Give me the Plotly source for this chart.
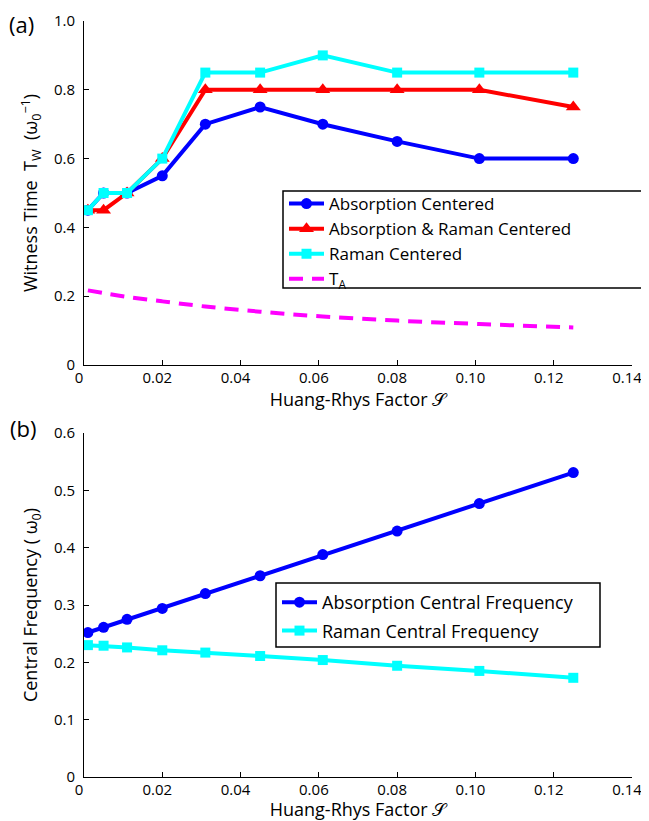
import plotly.graph_objects as go

# ---------------- data ----------------
S_values = [0.001, 0.005, 0.011, 0.02, 0.031, 0.045, 0.061, 0.08, 0.101, 0.125]

tw_absorption = [0.45, 0.50, 0.50, 0.55, 0.70, 0.75, 0.70, 0.65, 0.60, 0.60]
tw_abs_raman = [0.45, 0.45, 0.50, 0.60, 0.80, 0.80, 0.80, 0.80, 0.80, 0.75]
tw_raman = [0.45, 0.50, 0.50, 0.60, 0.85, 0.85, 0.90, 0.85, 0.85, 0.85]
t_a = [0.217, 0.209, 0.198, 0.185, 0.170, 0.155, 0.141, 0.129, 0.119, 0.109]

cf_absorption = [0.252, 0.261, 0.275, 0.294, 0.320, 0.351, 0.388, 0.429, 0.477, 0.531]
cf_raman = [0.230, 0.229, 0.226, 0.221, 0.217, 0.211, 0.204, 0.194, 0.185, 0.173]

x_tick_vals = [0, 0.02, 0.04, 0.06, 0.08, 0.10, 0.12, 0.14]
x_tick_text = ["0", "0.02", "0.04", "0.06", "0.08", "0.10", "0.12", "0.14"]
ya_tick_vals = [0, 0.2, 0.4, 0.6, 0.8, 1.0]
ya_tick_text = ["0", "0.2", "0.4", "0.6", "0.8", "1.0"]
yb_tick_vals = [0, 0.1, 0.2, 0.3, 0.4, 0.5, 0.6]
yb_tick_text = ["0", "0.1", "0.2", "0.3", "0.4", "0.5", "0.6"]

BLUE = "#0000FF"
RED = "#FF0000"
CYAN = "#00FFFF"
MAGENTA = "#FF00FF"
FONT = "Open Sans"

# page has an 8px body margin; figure sized to fit the window
OFF = 8
W, H = 649 - OFF, 821 - OFF


def fx(px):
    return (px - OFF) / W


def fy(py):
    return 1 - (py - OFF) / H


fig = go.Figure()

# ---- panel (a)
fig.add_trace(go.Scatter(x=S_values, y=tw_absorption, mode="lines+markers",
                         name="Absorption Centered", line=dict(color=BLUE, width=4),
                         marker=dict(symbol="circle", size=11, color=BLUE),
                         xaxis="x", yaxis="y", legend="legend"))
fig.add_trace(go.Scatter(x=S_values, y=tw_abs_raman, mode="lines+markers",
                         name="Absorption &amp; Raman Centered", line=dict(color=RED, width=4),
                         marker=dict(symbol="triangle-up", size=13, color=RED),
                         xaxis="x", yaxis="y", legend="legend"))
fig.add_trace(go.Scatter(x=S_values, y=tw_raman, mode="lines+markers",
                         name="Raman Centered", line=dict(color=CYAN, width=4),
                         marker=dict(symbol="square", size=10, color=CYAN),
                         xaxis="x", yaxis="y", legend="legend"))
fig.add_trace(go.Scatter(x=S_values, y=t_a, mode="lines", line_shape="spline",
                         name="T<sub>A</sub>", line=dict(color=MAGENTA, width=4, dash="14px,9px"),
                         xaxis="x", yaxis="y", legend="legend"))

# ---- panel (b)
fig.add_trace(go.Scatter(x=S_values, y=cf_absorption, mode="lines+markers",
                         name="Absorption Central Frequency", line=dict(color=BLUE, width=4),
                         marker=dict(symbol="circle", size=11, color=BLUE),
                         xaxis="x2", yaxis="y2", legend="legend2", legendgroup="b1"))
fig.add_trace(go.Scatter(x=S_values, y=cf_raman, mode="lines+markers",
                         name="Raman Central Frequency", line=dict(color=CYAN, width=4),
                         marker=dict(symbol="square", size=10, color=CYAN),
                         xaxis="x2", yaxis="y2", legend="legend2", legendgroup="b2"))

x_dom = [fx(84), fx(632)]
ya_dom = [fy(365), fy(21)]
yb_dom = [fy(777), fy(433)]

xcommon = dict(range=[0, 0.14], tickvals=x_tick_vals, ticktext=x_tick_text,
               showline=True, linecolor="black", linewidth=1, ticks="inside", ticklen=5,
               tickcolor="black", showgrid=False, zeroline=False, mirror=False,
               tickfont=dict(family=FONT, size=15, color="black"),
               title=dict(text="Huang-Rhys Factor 𝒮", font=dict(family=FONT, size=18, color="black"),
                          standoff=4),
               domain=x_dom, ticklabelstandoff=-1, ticklabelshift=-5, automargin=False)
ycommon = dict(showline=True, linecolor="black", linewidth=1, ticks="inside", ticklen=5,
               tickcolor="black", showgrid=False, zeroline=False, automargin=False,
               tickfont=dict(family=FONT, size=15, color="black"), ticklabelstandoff=5)

fig.update_layout(
    width=W, height=H,
    margin=dict(l=0, r=0, t=0, b=0, autoexpand=False),
    paper_bgcolor="white", plot_bgcolor="white",
    font=dict(family=FONT, color="black"),
    xaxis=dict(**xcommon, anchor="y"),
    yaxis=dict(**ycommon, range=[0, 1.0], tickvals=ya_tick_vals, ticktext=ya_tick_text,
               domain=ya_dom, anchor="x",
               title=dict(text="Witness Time  T<sub>W</sub>  (ω<sub>0</sub><sup>−1</sup>)",
                          font=dict(family=FONT, size=18, color="black"), standoff=11)),
    xaxis2=dict(**xcommon, anchor="y2"),
    yaxis2=dict(**ycommon, range=[0, 0.6], tickvals=yb_tick_vals, ticktext=yb_tick_text,
                domain=yb_dom, anchor="x2",
                title=dict(text="Central Frequency ( ω<sub>0</sub>)",
                           font=dict(family=FONT, size=18, color="black"), standoff=11)),
    legend=dict(x=fx(284), y=fy(186), xanchor="left", yanchor="top",
                bgcolor="rgba(0,0,0,0)", borderwidth=0, itemwidth=35,
                tracegroupgap=0, font=dict(family=FONT, size=17, color="black")),
    legend2=dict(x=fx(277), y=fy(584), xanchor="left", yanchor="top",
                 bgcolor="rgba(0,0,0,0)", borderwidth=0, itemwidth=35,
                 tracegroupgap=2, font=dict(family=FONT, size=18, color="black")),
    showlegend=True,
)

# legend boxes
fig.add_shape(type="rect", xref="paper", yref="paper",
              x0=fx(283), x1=fx(642), y0=fy(288), y1=fy(191),
              line=dict(color="black", width=1.5), fillcolor="white", layer="below")
fig.add_shape(type="rect", xref="paper", yref="paper",
              x0=fx(276), x1=fx(600), y0=fy(647), y1=fy(583),
              line=dict(color="black", width=1.5), fillcolor="white", layer="below")

# panel labels
fig.add_annotation(text="(a)", xref="paper", yref="paper", x=fx(8), y=1,
                   xanchor="left", yanchor="top", showarrow=False, borderpad=0,
                   font=dict(family=FONT, size=22, color="black"))
fig.add_annotation(text="(b)", xref="paper", yref="paper", x=fx(8), y=fy(428),
                   xanchor="left", yanchor="middle", showarrow=False,
                   font=dict(family=FONT, size=22, color="black"))

fig.write_html("out.html")
